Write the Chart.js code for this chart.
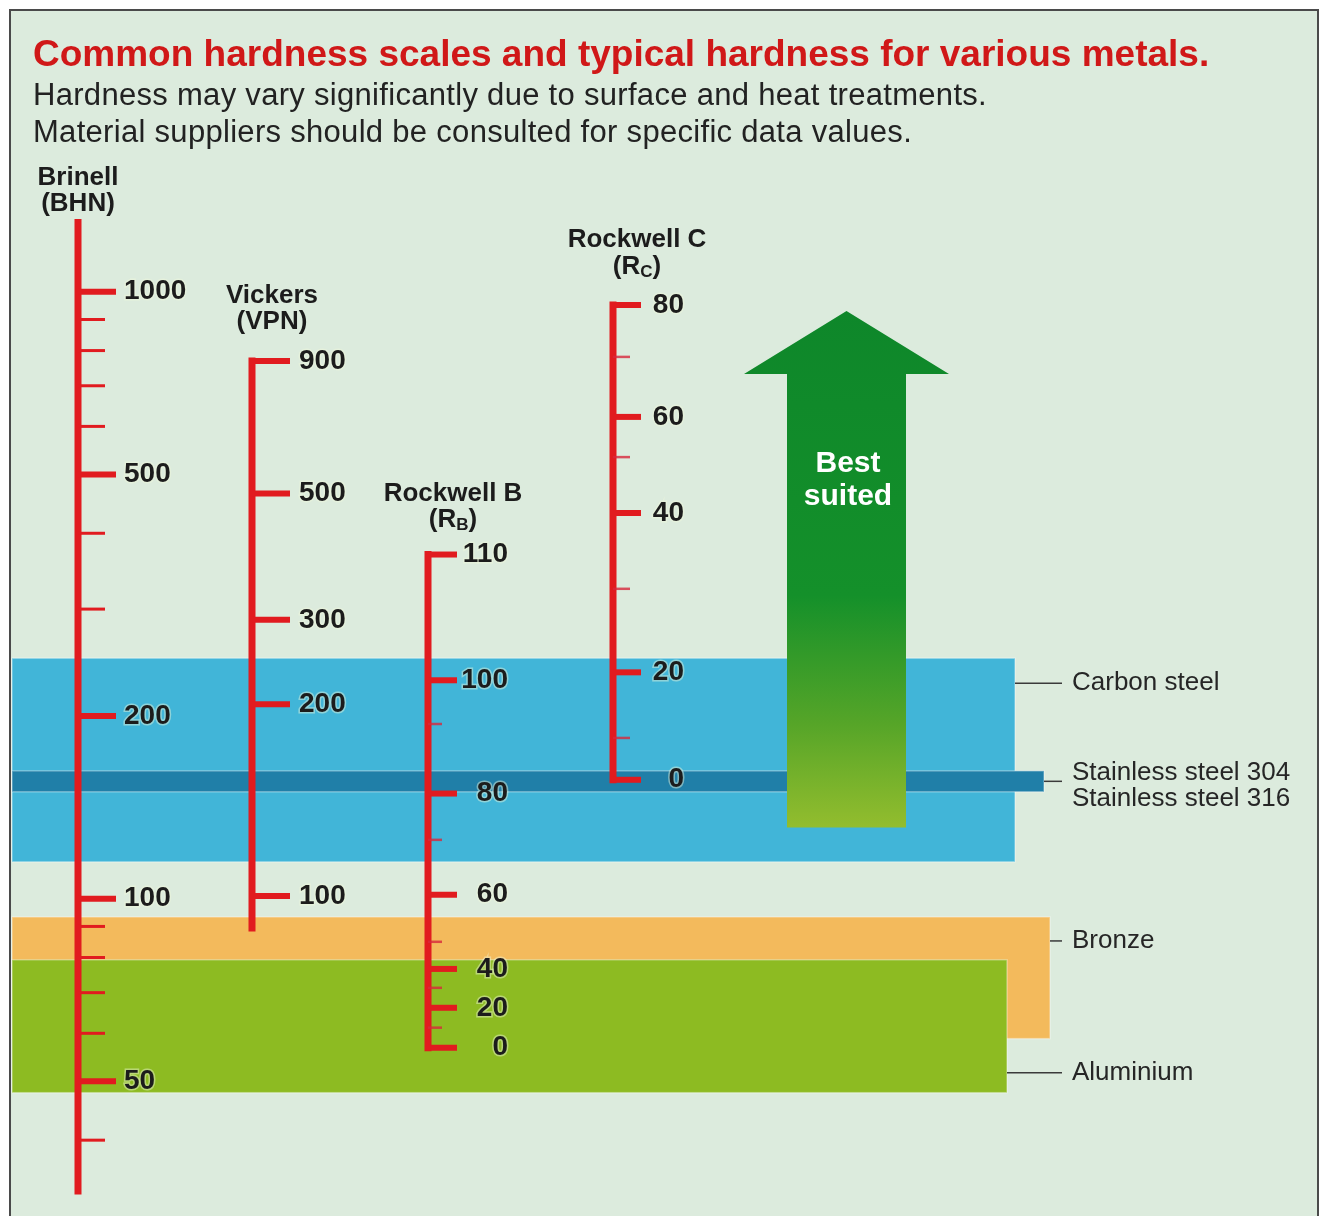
<!DOCTYPE html>
<html>
<head>
<meta charset="utf-8">
<title>Hardness scales</title>
<script src="https://cdn.jsdelivr.net/npm/chart.js@4.4.1/dist/chart.umd.min.js"></script>
<style>
    html, body { margin: 0; padding: 0; background: #ffffff; }
    #wrap { width: 1323px; height: 1216px; position: relative; }
</style>
</head>
<body>
<div id="wrap"><canvas id="hardnessChart"></canvas></div>
<script>
// All marks sit on one hidden Brinell-equivalent (BHN) log axis.
// The other scales are given as the BHN value each of their ticks lines up with.
const brinellMajor = [1000, 500, 200, 100, 50];
const brinellMinor = [900, 800, 700, 600, 400, 300, 90, 80, 70, 60, 40];
const brinellSpan = [33, 1300];

const vickersLabels = [900, 500, 300, 200, 100];
const vickersBhn = [769, 465, 288, 209, 101];
const vickersSpan = [89.5, 769];

const rockwellBLabels = [110, 100, 80, 60, 40, 20, 0];
const rockwellBBhn = [369, 229, 149, 101.5, 76.6, 66.1, 56.8];
const rockwellBMinorBhn = [194, 125, 84.9, 71.3, 61.3]; // 90, 70, 50, 30, 10

const rockwellCLabels = [80, 60, 40, 20, 0];
const rockwellCBhn = [951, 622, 432, 236, 157];
const rockwellCMinorBhn = [781, 534, 324, 184]; // 70, 50, 30, 10

const metals = ['Carbon steel', 'Stainless steel 304\nStainless steel 316', 'Bronze', 'Aluminium'];
const metalLow = [115, 150, 58.8, 47.9];
const metalHigh = [249, 162.4, 93.3, 79.3];

const arrowBhn = [131, 732, 930]; // shaft bottom, head base, tip

// layout (x axis runs 0..1323 across the canvas)
const FONT = '"Liberation Sans", Arial, Helvetica, sans-serif';
const RED = '#e11b1f';
const INK = '#1c1c1c';
const colX = { brinell: 78, vickers: 252, rockwellB: 428, rockwellC: 613 };
const bandLeft = 12;
const bandRight = [1015, 1044, 1050, 1007];
const metalColors = ['#41b5d8', '#207fa8', '#f3ba5c', '#8dbb22'];
const leaderAnchor = [['top', 25], ['mid', 0], ['top', 24], ['bottom', -20]];

function scaleLine(x, span) {
    return {
        data: [{ x: x, y: span[0] }, { x: x, y: span[1] }],
        showLine: true,
        borderColor: RED,
        borderWidth: 7,
        borderCapStyle: 'square',
        pointRadius: 0
    };
}

function tickSet(x, values, len, width, color) {
    return {
        data: values.map(v => ({ x: x + len / 2, y: v })),
        showLine: false,
        pointStyle: 'line',
        pointRadius: len / 2,
        pointBorderWidth: width,
        pointBorderColor: color,
        pointBackgroundColor: color
    };
}

const datasets = [
    tickSet(colX.brinell, brinellMajor, 38, 6, RED),
    tickSet(colX.brinell, brinellMinor, 27, 3, RED),
    tickSet(colX.vickers, vickersBhn, 38, 6, RED),
    tickSet(colX.rockwellB, rockwellBBhn, 29, 6, RED),
    tickSet(colX.rockwellB, rockwellBMinorBhn, 14, 2.5, 'rgba(215,40,60,0.8)'),
    tickSet(colX.rockwellC, rockwellCBhn, 28, 6, RED),
    tickSet(colX.rockwellC, rockwellCMinorBhn, 17, 2.5, 'rgba(215,40,60,0.8)'),
    scaleLine(colX.brinell, brinellSpan),
    scaleLine(colX.vickers, vickersSpan),
    scaleLine(colX.rockwellB, [rockwellBBhn[rockwellBBhn.length - 1], rockwellBBhn[0]]),
    scaleLine(colX.rockwellC, [rockwellCBhn[rockwellCBhn.length - 1], rockwellCBhn[0]])
];

function labelText(ctx, text, x, y, align) {
    ctx.textAlign = align;
    ctx.lineWidth = 3;
    ctx.strokeStyle = 'rgba(240,248,220,0.45)';
    ctx.strokeText(text, x, y);
    ctx.fillStyle = INK;
    ctx.fillText(text, x, y);
}

function subscriptHeader(ctx, pre, sub, post, cx, cy, size) {
    const big = 'bold ' + size + 'px ' + FONT;
    const small = 'bold ' + Math.round(size * 0.64) + 'px ' + FONT;
    ctx.font = big;
    const w1 = ctx.measureText(pre).width;
    const w3 = ctx.measureText(post).width;
    ctx.font = small;
    const w2 = ctx.measureText(sub).width;
    const x0 = cx - (w1 + w2 + w3) / 2;
    ctx.textAlign = 'left';
    ctx.font = big;
    ctx.fillText(pre, x0, cy);
    ctx.font = small;
    ctx.fillText(sub, x0 + w1, cy + size * 0.2);
    ctx.font = big;
    ctx.fillText(post, x0 + w1 + w2, cy);
}

const hardnessArt = {
    id: 'hardnessArt',
    beforeDraw(chart) {
        const ctx = chart.ctx;
        ctx.save();
        ctx.fillStyle = '#ffffff';
        ctx.fillRect(0, 0, chart.width, chart.height);
        ctx.fillStyle = '#dcebdd';
        ctx.fillRect(10, 10, 1308, chart.height);
        ctx.restore();
    },
    beforeDatasetsDraw(chart) {
        const { ctx, scales: { x, y } } = chart;
        ctx.save();
        // metal bands
        metals.forEach((m, i) => {
            const top = y.getPixelForValue(metalHigh[i]);
            const bot = y.getPixelForValue(metalLow[i]);
            const left = x.getPixelForValue(bandLeft);
            const right = x.getPixelForValue(bandRight[i]);
            ctx.fillStyle = metalColors[i];
            ctx.fillRect(left, top, right - left, bot - top);
            ctx.strokeStyle = 'rgba(255,255,255,0.35)';
            ctx.lineWidth = 1.5;
            ctx.strokeRect(left, top, right - left, bot - top);
        });

        // "Best suited" arrow
        const tip = y.getPixelForValue(arrowBhn[2]);
        const neck = y.getPixelForValue(arrowBhn[1]);
        const bottom = y.getPixelForValue(arrowBhn[0]);
        const cx = x.getPixelForValue(846.5);
        const grad = ctx.createLinearGradient(0, tip, 0, bottom);
        grad.addColorStop(0, '#0e872a');
        grad.addColorStop(0.55, '#14902a');
        grad.addColorStop(0.8, '#56a528');
        grad.addColorStop(1, '#93bd2e');
        ctx.fillStyle = grad;
        ctx.beginPath();
        ctx.moveTo(cx - 59.5, bottom);
        ctx.lineTo(cx - 59.5, neck);
        ctx.lineTo(cx - 102.5, neck);
        ctx.lineTo(cx, tip);
        ctx.lineTo(cx + 102.5, neck);
        ctx.lineTo(cx + 59.5, neck);
        ctx.lineTo(cx + 59.5, bottom);
        ctx.closePath();
        ctx.fill();
        ctx.fillStyle = '#ffffff';
        ctx.font = 'bold 30px ' + FONT;
        ctx.textAlign = 'center';
        ctx.textBaseline = 'middle';
        ctx.fillText('Best', cx + 1.5, 464);
        ctx.fillText('suited', cx + 1.5, 497);
        ctx.restore();
    },
    afterDatasetsDraw(chart) {
        const { ctx, scales: { x, y } } = chart;
        ctx.save();
        ctx.textBaseline = 'middle';

        // tick labels
        ctx.font = 'bold 28px ' + FONT;
        brinellMajor.forEach(v => labelText(ctx, String(v), 124, y.getPixelForValue(v), 'left'));
        vickersBhn.forEach((v, i) => labelText(ctx, String(vickersLabels[i]), 299, y.getPixelForValue(v), 'left'));
        rockwellBBhn.forEach((v, i) => labelText(ctx, String(rockwellBLabels[i]), 508, y.getPixelForValue(v), 'right'));
        rockwellCBhn.forEach((v, i) => labelText(ctx, String(rockwellCLabels[i]), 684, y.getPixelForValue(v), 'right'));

        // scale headers
        ctx.fillStyle = INK;
        ctx.font = 'bold 26px ' + FONT;
        ctx.textAlign = 'center';
        ctx.fillText('Brinell', 78, 178);
        ctx.fillText('(BHN)', 78, 204);
        ctx.fillText('Vickers', 272, 296);
        ctx.fillText('(VPN)', 272, 322);
        ctx.fillText('Rockwell B', 453, 494);
        ctx.fillText('Rockwell C', 637, 240);
        subscriptHeader(ctx, '(R', 'B', ')', 453, 520, 26);
        subscriptHeader(ctx, '(R', 'C', ')', 637, 267, 26);

        // metal labels with leaders
        ctx.font = '26px ' + FONT;
        ctx.textAlign = 'left';
        ctx.strokeStyle = '#3a3a3a';
        ctx.lineWidth = 1.5;
        metals.forEach((m, i) => {
            const top = y.getPixelForValue(metalHigh[i]);
            const bot = y.getPixelForValue(metalLow[i]);
            const [where, off] = leaderAnchor[i];
            const ly = (where === 'top' ? top : where === 'bottom' ? bot : (top + bot) / 2) + off;
            ctx.beginPath();
            ctx.moveTo(x.getPixelForValue(bandRight[i]), ly);
            ctx.lineTo(1062, ly);
            ctx.stroke();
            ctx.fillStyle = '#262626';
            const lines = m.split('\n');
            if (lines.length === 1) {
                ctx.fillText(m, 1072, ly);
            } else {
                ctx.fillText(lines[0], 1072, ly - 8);
                ctx.fillText(lines[1], 1072, ly + 18);
            }
        });

        // title block
        ctx.textBaseline = 'alphabetic';
        ctx.fillStyle = '#d01818';
        ctx.font = 'bold 37px ' + FONT;
        ctx.fillText('Common hardness scales and typical hardness for various metals.', 33, 66);
        ctx.fillStyle = '#222222';
        ctx.font = '31px ' + FONT;
        ctx.letterSpacing = '0.3px';
        ctx.fillText('Hardness may vary significantly due to surface and heat treatments.', 33, 105);
        ctx.fillText('Material suppliers should be consulted for specific data values.', 33, 142);
        ctx.letterSpacing = '0px';
        ctx.restore();
    },
    afterDraw(chart) {
        const ctx = chart.ctx;
        ctx.save();
        ctx.strokeStyle = '#4a4a4a';
        ctx.lineWidth = 2;
        ctx.beginPath();
        ctx.moveTo(10, chart.height);
        ctx.lineTo(10, 10);
        ctx.lineTo(1318, 10);
        ctx.lineTo(1318, chart.height);
        ctx.stroke();
        ctx.restore();
    }
};

new Chart(document.getElementById('hardnessChart'), {
    type: 'scatter',
    data: { datasets: datasets },
    options: {
        responsive: true,
        maintainAspectRatio: false,
        animation: false,
        events: [],
        layout: { padding: 0, autoPadding: false },
        plugins: {
            legend: { display: false },
            tooltip: { enabled: false },
            title: { display: false }
        },
        scales: {
            x: { type: 'linear', min: 0, max: 1323, display: false, bounds: 'data' },
            y: { type: 'logarithmic', min: 30, max: 3025, display: false, bounds: 'data' }
        }
    },
    plugins: [hardnessArt]
});
</script>
</body>
</html>
